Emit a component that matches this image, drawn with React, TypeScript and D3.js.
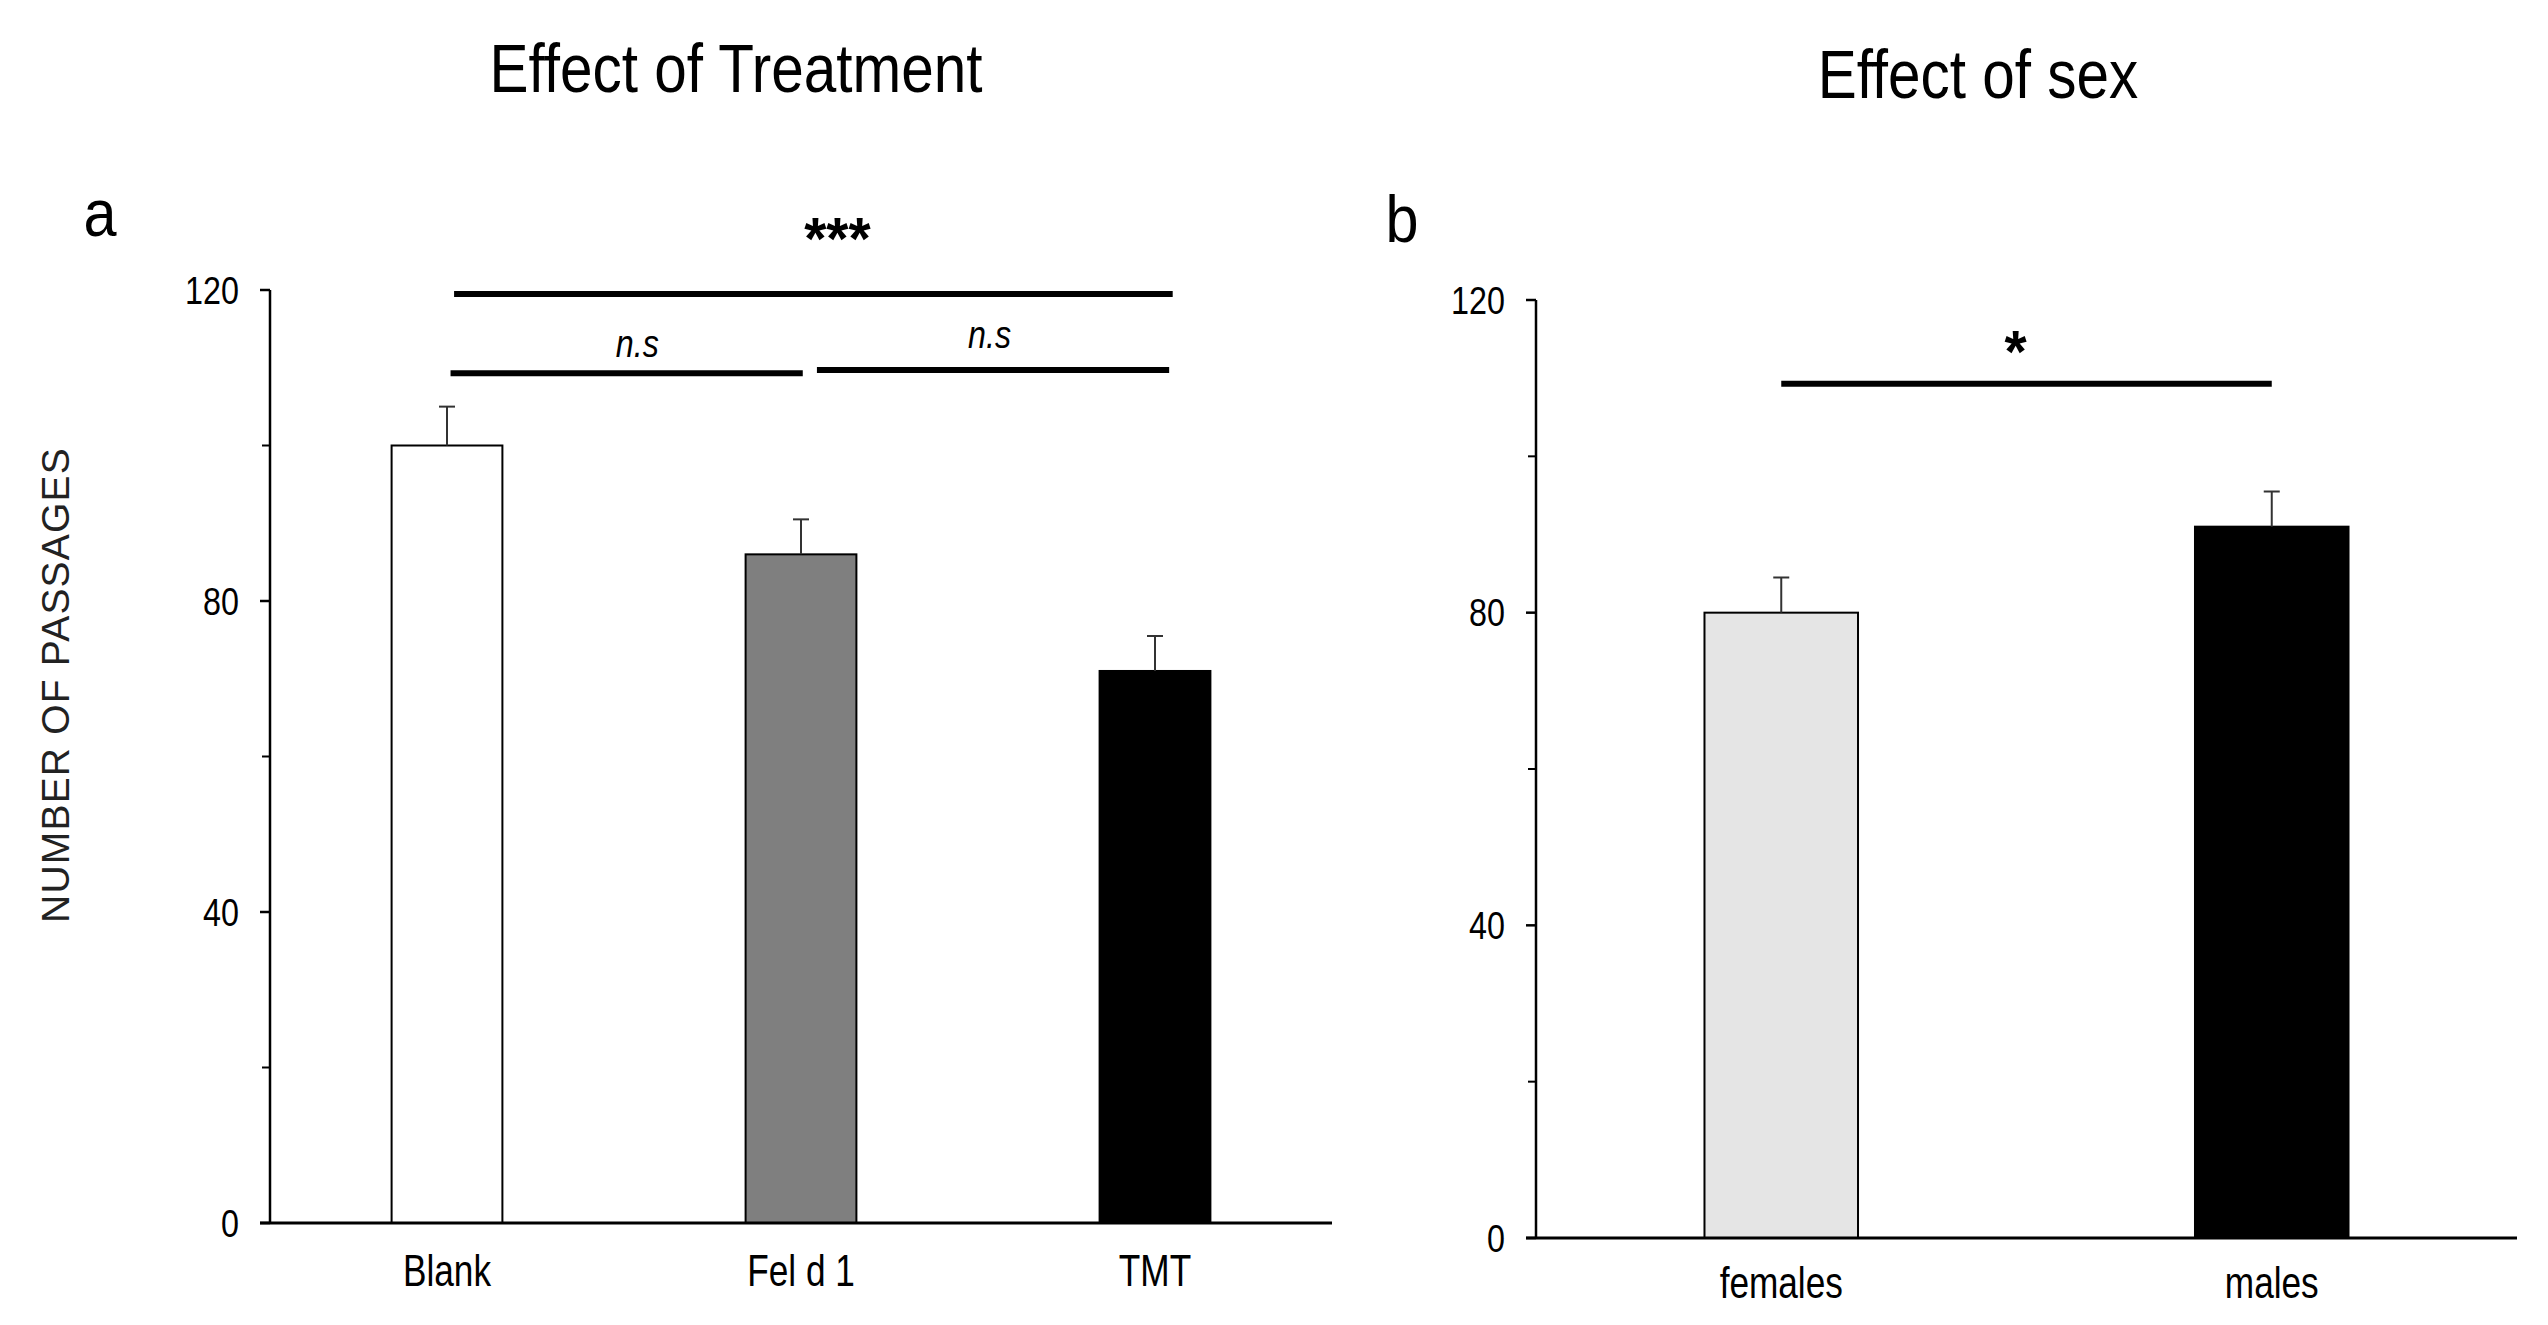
import * as d3 from 'd3'

// panel a - effect of treatment
const treatments = ['Blank', 'Fel d 1', 'TMT']
const treatmentMeans = [100, 86, 71]
const treatmentSE = [5, 4.5, 4.5]
const treatmentFills = ['#ffffff', '#7f7f7f', '#000000']
// brackets: index positions along the category axis, height in axis units
const treatmentBrackets = [
    { from: 0.02, to: 2.05, value: 119.5, label: '***', labelValue: 124, labelShift: 0.068, italic: false },
    { from: 0.01, to: 1.005, value: 109.3, label: 'n.s', labelValue: 111.4, labelShift: 0.03, italic: true },
    { from: 1.045, to: 2.04, value: 109.7, label: 'n.s', labelValue: 112.6, labelShift: -0.01, italic: true }
]

// panel b - effect of sex
const sexes = ['females', 'males']
const sexMeans = [80, 91]
const sexSE = [4.5, 4.5]
const sexFills = ['#e5e5e5', '#000000']
const sexBrackets = [{ from: 0, to: 1, value: 109.3, label: '*', labelValue: 110.8, labelShift: -0.022, italic: false }]

const majorTicks = [0, 40, 80, 120]
const minorTicks = [20, 60, 100]

const SANS = "'Liberation Sans', Arial, sans-serif"

type Bracket = { from: number; to: number; value: number; label: string; labelValue: number; labelShift: number; italic: boolean }

// Arial-narrow look: squeeze regular sans horizontally
function NText({ x, y, size, squeeze = 0.82, anchor = 'middle', dy, italic, bold, children }: any) {
    return (
        <text transform={`translate(${x},${y}) scale(${squeeze},1)`} textAnchor={anchor} dy={dy}
            fontFamily={SANS} fontSize={size} fontStyle={italic ? 'italic' : 'normal'}
            fontWeight={bold ? 'bold' : 'normal'}>{children}</text>
    )
}

function Panel({ cats, means, se, fills, brackets, xRange, yRange, letter, letterPos, title, titlePos, labelDrop }: {
    cats: string[]; means: number[]; se: number[]; fills: string[]; brackets: Bracket[]
    xRange: [number, number]; yRange: [number, number]; letter: string; letterPos: [number, number]
    title: string; titlePos: [number, number]; labelDrop: number
}) {
    const x = d3.scalePoint<string>().domain(cats).range(xRange).padding(0.5)
    const y = d3.scaleLinear().domain([0, 120]).range(yRange)
    const barW = x.step() * 0.313
    const idx = d3.scaleLinear().domain([0, cats.length - 1]).range([x(cats[0])!, x(cats[cats.length - 1])!])
    const axisX = xRange[0]

    return (
        <g>
            <NText x={titlePos[0]} y={titlePos[1]} size={68} squeeze={0.86}>{title}</NText>
            <NText x={letterPos[0]} y={letterPos[1]} size={66} squeeze={0.9}>{letter}</NText>

            {/* bars */}
            {cats.map((c, i) => (
                <rect key={c} x={x(c)! - barW / 2} y={y(means[i])} width={barW} height={y(0) - y(means[i])}
                    fill={fills[i]} stroke="#000" strokeWidth={2} />
            ))}
            {/* error bars, upper only */}
            {cats.map((c, i) => (
                <g key={c + '-err'} stroke="#333" strokeWidth={2}>
                    <line x1={x(c)} x2={x(c)} y1={y(means[i])} y2={y(means[i] + se[i])} />
                    <line x1={x(c)! - 8} x2={x(c)! + 8} y1={y(means[i] + se[i])} y2={y(means[i] + se[i])} />
                </g>
            ))}

            {/* y axis */}
            <line x1={axisX} x2={axisX} y1={y(120)} y2={y(0)} stroke="#000" strokeWidth={2.5} />
            {majorTicks.map(t => (
                <g key={t}>
                    <line x1={axisX - 10} x2={axisX} y1={y(t)} y2={y(t)} stroke="#000" strokeWidth={2.5} />
                    <NText x={axisX - 31} y={y(t)} dy="0.36em" anchor="end" size={38} squeeze={0.85}>{t}</NText>
                </g>
            ))}
            {minorTicks.map(t => (
                <line key={t} x1={axisX - 8} x2={axisX} y1={y(t)} y2={y(t)} stroke="#000" strokeWidth={2} />
            ))}
            {/* x axis */}
            <line x1={xRange[0] - 10} x2={xRange[1]} y1={y(0)} y2={y(0)} stroke="#000" strokeWidth={3} />
            {cats.map(c => (
                <NText key={c + '-lab'} x={x(c)} y={y(0) + labelDrop} size={44} squeeze={0.8}>{c}</NText>
            ))}

            {/* significance brackets */}
            {brackets.map((b, i) => {
                const lx = idx((b.from + b.to) / 2 + b.labelShift)
                return (
                    <g key={'br' + i}>
                        <line x1={idx(b.from)} x2={idx(b.to)} y1={y(b.value)} y2={y(b.value)} stroke="#000" strokeWidth={6} />
                        {b.italic
                            ? <NText x={lx} y={y(b.labelValue)} size={38} squeeze={0.85} italic>{b.label}</NText>
                            : <NText x={lx} y={y(b.labelValue)} size={60} squeeze={0.95} bold>{b.label}</NText>}
                    </g>
                )
            })}
        </g>
    )
}

export default function App() {
    return (
        <svg width={2548} height={1325} style={{ position: 'absolute', left: 0, top: 0, background: '#fff' }}>
            <Panel cats={treatments} means={treatmentMeans} se={treatmentSE} fills={treatmentFills}
                brackets={treatmentBrackets} xRange={[270, 1332]} yRange={[1223, 290]}
                letter="a" letterPos={[100, 236]} title="Effect of Treatment" titlePos={[736, 92]} labelDrop={63} />
            <Panel cats={sexes} means={sexMeans} se={sexSE} fills={sexFills}
                brackets={sexBrackets} xRange={[1536, 2517]} yRange={[1238, 300]}
                letter="b" letterPos={[1402, 242]} title="Effect of sex" titlePos={[1978, 98]} labelDrop={60} />
            <text transform="translate(69,685) rotate(-90)" textAnchor="middle" fontFamily={SANS} fontSize={39}
                letterSpacing={1.2} fill="#222">NUMBER  OF  PASSAGES</text>
        </svg>
    )
}
